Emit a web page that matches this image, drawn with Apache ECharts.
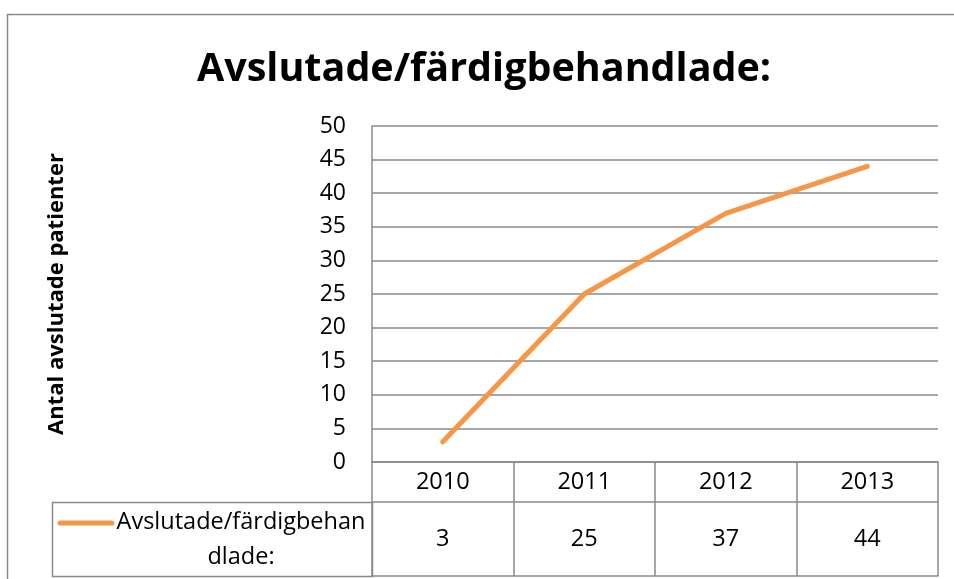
<!DOCTYPE html>
<html>
	<head>
		<meta charset="utf-8" />
		<title>avslutade</title>
		<script src="https://cdn.jsdelivr.net/npm/echarts@6/dist/echarts.min.js"></script>
		<style>
			html, body { margin: 0; padding: 0; background: #fff; }
		</style>
	</head>
	<body>
		<div id="chart" style="width:954px;height:579px;"></div>
	</body>
	<script type="text/javascript">

	// data
	var years = ['2010', '2011', '2012', '2013'];
	var finished = [3, 25, 37, 44];
	var seriesName = 'Avslutade/färdigbehandlade:';
	var yMin = 0, yMax = 50, yStep = 5;

	var gray = '#8a8a8a';
	var orange = '#F79646';
	var font = '"Open Sans", sans-serif';

	var myChart = echarts.init(document.getElementById('chart'));

	option = {
		backgroundColor: '#fff',
		animation: false,
		title: {
			text: seriesName,
			left: 192,
			top: 45,
			textStyle: {
				fontFamily: font,
				fontSize: 39.5,
				fontWeight: 'bold',
				color: '#000'
			}
		},
		grid: {
			left: 372,
			right: 16,
			top: 126,
			bottom: 117
		},
		xAxis: [
			{
				type: 'category',
				data: years,
				boundaryGap: true,
				axisLine: {lineStyle: {color: gray, width: 1.5}},
				axisTick: {show: true, interval: 0, length: 114, lineStyle: {color: gray, width: 1.5}},
				axisLabel: {
					interval: 0,
					margin: 20,
					verticalAlign: 'middle',
					fontFamily: font,
					fontSize: 23.5,
					color: '#000'
				}
			},
			{
				// value row of the data table
				type: 'category',
				data: finished.map(String),
				position: 'bottom',
				offset: 40,
				axisLine: {lineStyle: {color: gray, width: 1.5}},
				axisTick: {show: false},
				axisLabel: {
					interval: 0,
					margin: 37,
					verticalAlign: 'middle',
					fontFamily: font,
					fontSize: 23.5,
					color: '#000'
				}
			},
			{
				type: 'category',
				data: years,
				position: 'bottom',
				offset: 114,
				axisLine: {lineStyle: {color: gray, width: 1.5}},
				axisTick: {show: false},
				axisLabel: {show: false}
			}
		],
		yAxis: {
			type: 'value',
			min: yMin,
			max: yMax,
			interval: yStep,
			name: 'Antal avslutade patienter',
			nameLocation: 'middle',
			nameRotate: 90,
			nameGap: 304,
			nameTextStyle: {
				fontFamily: font,
				fontSize: 22,
				fontWeight: 'bold',
				color: '#000'
			},
			axisLine: {show: true, lineStyle: {color: gray, width: 1.5}},
			axisTick: {show: false},
			splitLine: {lineStyle: {color: gray, width: 1.5}},
			axisLabel: {
				margin: 26,
				fontFamily: font,
				fontSize: 23,
				color: '#000'
			}
		},
		graphic: [
			{
				// chart border
				type: 'rect',
				silent: true,
				shape: {x: 7.5, y: 14.5, width: 1000, height: 1000},
				style: {fill: 'none', stroke: gray, lineWidth: 1.5}
			},
			{
				// legend cell of the table
				type: 'rect',
				silent: true,
				shape: {x: 52.5, y: 502.5, width: 320, height: 74},
				style: {fill: 'none', stroke: gray, lineWidth: 1.5}
			},
			{
				type: 'line',
				silent: true,
				shape: {x1: 60, y1: 523, x2: 112, y2: 523},
				style: {stroke: orange, lineWidth: 5, lineCap: 'round'}
			},
			{
				type: 'text',
				silent: true,
				x: 241,
				y: 540,
				style: {
					text: seriesName.slice(0, 21) + '\n' + seriesName.slice(21),
					align: 'center',
					verticalAlign: 'middle',
					lineHeight: 35,
					fontFamily: font,
					fontSize: 23.5,
					fill: '#000'
				}
			}
		],
		series: [
			{
				name: seriesName,
				type: 'line',
				xAxisIndex: 0,
				data: finished,
				symbol: 'none',
				lineStyle: {color: orange, width: 5, cap: 'round', join: 'round'},
				itemStyle: {color: orange}
			}
		]
	};
	myChart.setOption(option);

	</script>
</html>
